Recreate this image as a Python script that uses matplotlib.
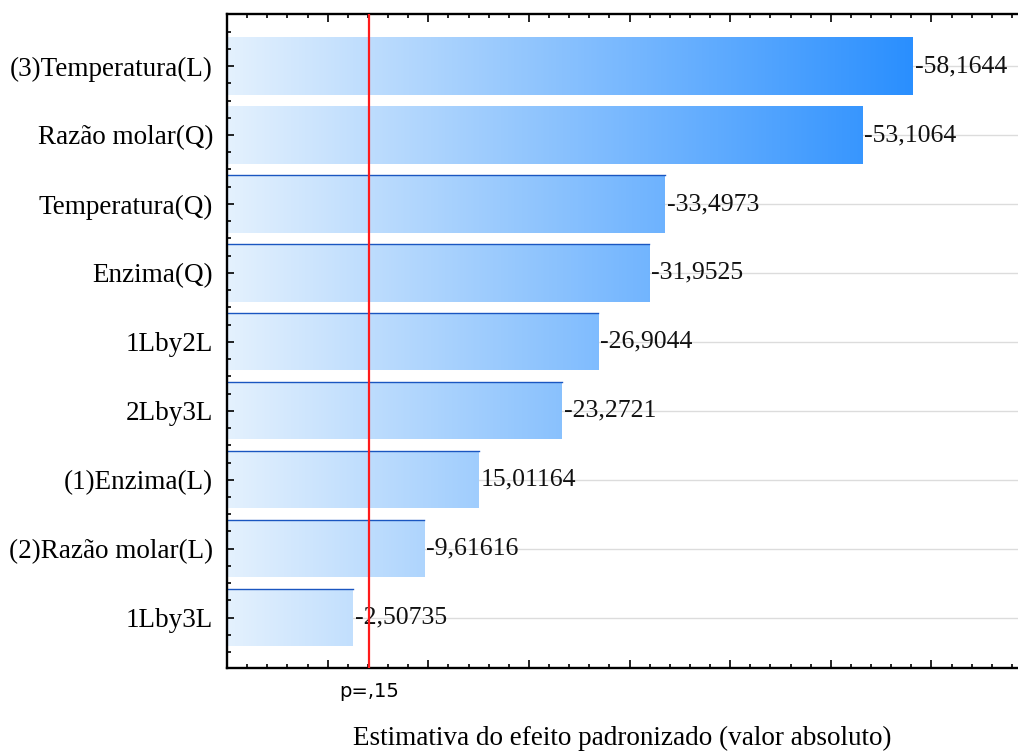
import numpy as np
import matplotlib
matplotlib.use("Agg")
import matplotlib.pyplot as plt
from matplotlib.colors import LinearSegmentedColormap
from matplotlib.ticker import MultipleLocator

# Standardized effects (Pareto chart), top to bottom
factors = ["(3)Temperatura(L)", "Razão molar(Q)", "Temperatura(Q)", "Enzima(Q)",
           "1Lby2L", "2Lby3L", "(1)Enzima(L)", "(2)Razão molar(L)", "1Lby3L"]
effects = [-58.1644, -53.1064, -33.4973, -31.9525, -26.9044, -23.2721,
           15.01164, -9.61616, -2.50735]
p_limit = 4.1          # critical value for p = .15
p_label = "p=,15"

x_min, x_max = -10, 68.6
serif = "Liberation Serif"

fig = plt.figure(figsize=(10.18, 7.54), dpi=100)
ax = fig.add_axes([227 / 1018, 86 / 754, 1 - 227 / 1018, 654 / 754])
ax.set_axisbelow(False)

n = len(factors)
ypos = np.arange(n)[::-1]
absvals = np.abs(effects)

ax.set_xlim(x_min, x_max)
ax.set_ylim(-0.73, n - 1 + 0.755)

# horizontal guide lines at each factor
for y in ypos:
    ax.axhline(y, color="#dcdcdc", lw=1.0, zorder=0)

cmap = LinearSegmentedColormap.from_list("blues", ["#e4f1fd", "#2a8fff"])
grad_end = max(absvals)
grad = np.linspace(0, 1, 512).reshape(1, -1)

bars = ax.barh(ypos, absvals - x_min, left=x_min, height=0.83,
               color="none", edgecolor="none", zorder=2)
for bar, y in zip(bars, ypos):
    img = ax.imshow(grad, cmap=cmap, aspect="auto",
                    extent=[x_min, grad_end, y - 0.415, y + 0.415],
                    interpolation="bilinear", zorder=2)
    img.set_clip_path(bar)

for i, (bar, y, v) in enumerate(zip(bars, ypos, effects)):
    if i >= 2:
        ax.plot([x_min, abs(v)], [y + 0.415, y + 0.415], color="#1a56c0",
                lw=1.0, zorder=2.2)
    ax.text(abs(v) + 0.2, y, str(v).replace(".", ","), va="center", ha="left",
            fontsize=18.5, family=serif, color="#111111", zorder=4)

ax.axvline(p_limit, color="#ff1a1a", lw=1.6, zorder=5)

ax.set_yticks(ypos)
ax.set_yticklabels(factors, fontsize=19.5, family=serif)
ax.yaxis.set_minor_locator(MultipleLocator(0.25))

ax.xaxis.set_major_locator(MultipleLocator(10))
ax.xaxis.set_minor_locator(MultipleLocator(2))
ax.tick_params(axis="x", which="both", direction="in", top=True, bottom=True,
               width=1.2, labelbottom=False)
ax.tick_params(axis="x", which="major", length=6)
ax.tick_params(axis="x", which="minor", length=3)
ax.tick_params(axis="y", which="both", direction="in", left=True, right=False,
               width=1.2, pad=10)
ax.tick_params(axis="y", which="major", length=5)
ax.tick_params(axis="y", which="minor", length=3)

for s in ["left", "top", "bottom"]:
    ax.spines[s].set_linewidth(1.7)
    ax.spines[s].set_color("black")
ax.spines["right"].set_visible(False)

ax.annotate(p_label, xy=(p_limit, 0), xycoords=("data", "axes fraction"),
            xytext=(0, -17), textcoords="offset points", ha="center", va="center",
            fontsize=14, family="DejaVu Sans")
ax.set_xlabel("Estimativa do efeito padronizado (valor absoluto)", fontsize=19.5,
              family=serif, labelpad=42)

fig.savefig("out.png", dpi=100)
